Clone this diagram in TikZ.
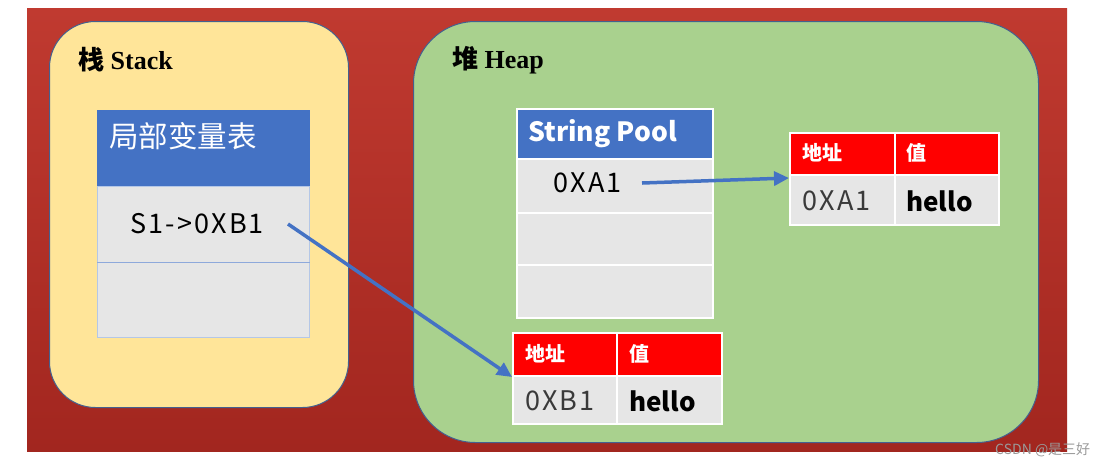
\documentclass[tikz,border=0pt]{standalone}
\usepackage{fontspec}
\setmainfont{Liberation Serif}
\newfontfamily\cjk{Noto Sans CJK SC}
\newfontfamily\cjkwide{Noto Sans CJK SC}[LetterSpace=8]
\usetikzlibrary{arrows.meta}
\definecolor{bgredtop}{HTML}{C03A30}
\definecolor{bgredbot}{HTML}{A2261F}
\definecolor{stackfill}{HTML}{FFE599}
\definecolor{heapfill}{HTML}{A9D18E}
\definecolor{edge}{HTML}{44608F}
\definecolor{hdrblue}{HTML}{4472C4}
\definecolor{cellgray}{HTML}{E6E6E6}
\definecolor{lightblue}{HTML}{B4C7E7}
\definecolor{midblue}{HTML}{8EA9DB}
\definecolor{hdrred}{HTML}{FF0000}
\definecolor{darktext}{HTML}{3A3A3A}
\definecolor{wm}{HTML}{9A9A9A}
\tikzset{
  region/.style={draw=edge, line width=1pt, anchor=north west, inner sep=0pt},
  scell/.style={draw=lightblue, line width=1pt, fill=cellgray, anchor=north west, inner sep=0pt},
  hcell/.style={draw=white, line width=2pt, anchor=north west, inner sep=0pt},
  title/.style={anchor=west, inner sep=0pt, font=\bfseries\fontsize{26}{30}\selectfont},
  celltext/.style={anchor=west, inner sep=0pt, font=\cjkwide\fontsize{27}{30}\selectfont},
  boldtext/.style={anchor=west, inner sep=0pt, font=\cjk\bfseries\fontsize{26}{30}\selectfont},
  hdrtext/.style={anchor=west, inner sep=0pt, text=white, font=\cjk\bfseries\fontsize{20}{24}\selectfont},
  arr/.style={draw=hdrblue, line width=3.5pt, -{Triangle[length=15pt,width=14pt]}}
}
\begin{document}
\begin{tikzpicture}[x=1pt,y=-1pt]
\useasboundingbox (0,0) rectangle (1110,467);
% background
\shade[top color=bgredtop, bottom color=bgredbot] (27,8) rectangle (1067,451);
% stack region
\node[region, fill=stackfill, rounded corners=46pt, minimum width=299pt, minimum height=386pt] (stack) at (49,21) {};
\node[title] (stacktitle) at (78,60) {{\cjk 栈} Stack};
% stack table
\node[scell, fill=hdrblue, draw=hdrblue, minimum width=212pt, minimum height=76pt] (lvhdr) at (97,110) {};
\node[scell, minimum width=212pt, minimum height=76pt] (lvrow1) at (97,186) {};
\node[scell, minimum width=212pt, minimum height=75pt] (lvrow2) at (97,262) {};
\draw[midblue, line width=1pt] (lvrow2.north west) -- (lvrow2.north east);
\node[anchor=west, inner sep=0pt, text=white, font=\cjk\fontsize{29.5}{33}\selectfont] (lvtitle) at (109,136) {局部变量表};
\node[celltext] (s1) at (130,224) {S1->0XB1};
% heap region
\node[region, fill=heapfill, rounded corners=62pt, minimum width=625pt, minimum height=421pt] (heap) at (413,21) {};
\node[title] (heaptitle) at (452,60) {{\cjk 堆} Heap};
% string pool
\node[hcell, fill=hdrblue, minimum width=196pt, minimum height=50pt] (sphdr) at (516,108) {};
\node[hcell, fill=cellgray, minimum width=196pt, minimum height=54pt] (sprow1) at (516,158) {};
\node[hcell, fill=cellgray, minimum width=196pt, minimum height=52pt] (sprow2) at (516,212) {};
\node[hcell, fill=cellgray, minimum width=196pt, minimum height=53pt] (sprow3) at (516,264) {};
\node[anchor=west, inner sep=0pt, text=white, font=\cjk\bfseries\fontsize{26.5}{30}\selectfont] (sptitle) at (528,134) {String Pool};
\node[celltext] (a1) at (553,183) {0XA1};
% table A (top right)
\node[hcell, fill=hdrred, minimum width=105pt, minimum height=42pt] (tah1) at (789,132) {};
\node[hcell, fill=hdrred, minimum width=104pt, minimum height=42pt] (tah2) at (894,132) {};
\node[hcell, fill=cellgray, minimum width=105pt, minimum height=50pt] (tar1) at (789,174) {};
\node[hcell, fill=cellgray, minimum width=104pt, minimum height=50pt] (tar2) at (894,174) {};
\node[hdrtext] (tah1t) at (802,153) {地址};
\node[hdrtext] (tah2t) at (906,153) {值};
\node[celltext, text=darktext] (tar1t) at (802,201) {0XA1};
\node[boldtext] (tar2t) at (906,201) {hello};
% table B (bottom)
\node[hcell, fill=hdrred, minimum width=104pt, minimum height=43pt] (tbh1) at (512,332) {};
\node[hcell, fill=hdrred, minimum width=105pt, minimum height=43pt] (tbh2) at (616,332) {};
\node[hcell, fill=cellgray, minimum width=104pt, minimum height=48pt] (tbr1) at (512,375) {};
\node[hcell, fill=cellgray, minimum width=105pt, minimum height=48pt] (tbr2) at (616,375) {};
\node[hdrtext] (tbh1t) at (525,354) {地址};
\node[hdrtext] (tbh2t) at (629,354) {值};
\node[celltext, text=darktext] (tbr1t) at (525,401) {0XB1};
\node[boldtext] (tbr2t) at (629,401) {hello};
% arrows
\coordinate (s1end) at (288,224);
\coordinate (a1end) at (642,183);
\coordinate (tbtip) at (512,377);
\coordinate (tatip) at (789,178);
\draw[arr] (s1end) -- (tbtip);
\draw[arr] (a1end) -- (tatip);
% watermark
\node[anchor=west, inner sep=0pt, text=wm, font=\cjk\fontsize{14}{16}\selectfont] (wmark) at (995,450) {CSDN @是三好};
\end{tikzpicture}
\end{document}
